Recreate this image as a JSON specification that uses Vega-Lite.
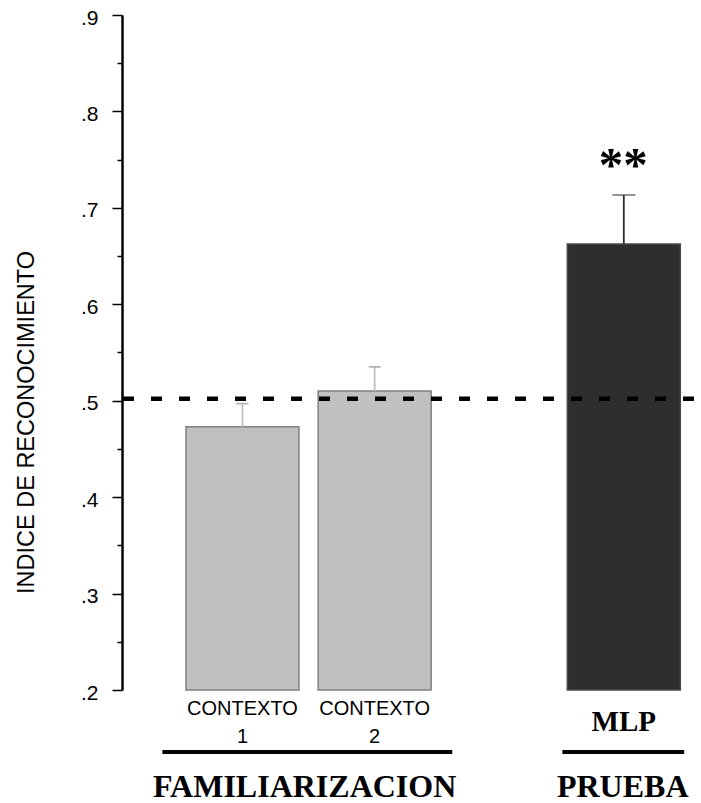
{
  "$schema": "https://vega.github.io/schema/vega-lite/v6.json",
  "autosize": "none",
  "width": 579,
  "height": 675,
  "padding": {"left": 122, "top": 15, "right": 0, "bottom": 113},
  "background": "white",
  "config": {"view": {"stroke": null}},
  "datasets": {
    "bars": [
      {"cond": "CONTEXTO\n1", "pos": 1, "value": 0.473, "upper": 0.497, "group": "light", "font": "sans"},
      {"cond": "CONTEXTO\n2", "pos": 2, "value": 0.510, "upper": 0.535, "group": "light", "font": "sans"},
      {"cond": "MLP", "pos": 3.885, "value": 0.6625, "upper": 0.7133, "group": "dark", "font": "serif"}
    ],
    "groups": [
      {"label": "FAMILIARIZACION", "start": 0.394, "end": 2.587, "center": 1.47},
      {"label": "PRUEBA", "start": 3.42, "end": 4.342, "center": 3.877}
    ],
    "chance": [{"y": 0.502}],
    "notes": [{"text": "**", "pos": 3.88, "y": 0.728}]
  },
  "layer": [
    {
      "data": {"name": "bars"},
      "mark": {"type": "bar", "width": 113, "strokeWidth": 1.5},
      "encoding": {
        "x": {"field": "pos", "type": "quantitative", "scale": {"domain": [0.1264, 4.4312], "nice": false, "zero": false}, "axis": null},
        "y": {"field": "value", "type": "quantitative", "scale": {"domain": [0.2, 0.9], "nice": false, "zero": false},
          "axis": {
            "values": [0.2, 0.225, 0.25, 0.275, 0.3, 0.325, 0.35, 0.375, 0.4, 0.425, 0.45, 0.475, 0.5, 0.525, 0.55, 0.575, 0.6, 0.625, 0.65, 0.675, 0.7, 0.725, 0.75, 0.775, 0.8, 0.825, 0.85, 0.875, 0.9],
            "labelExpr": "round(datum.value*40)%4==0 ? replace(format(datum.value,'.1f'),'0.','.') : ''",
            "tickSize": {"condition": {"test": "round(datum.value*40)%4==0", "value": 10}, "value": 5},
            "tickWidth": 1.5,
            "tickColor": "black",
            "domainColor": "black",
            "domainWidth": 2.5,
            "grid": false,
            "labelFont": "Liberation Sans",
            "labelFontSize": 21,
            "labelColor": "black",
            "labelPadding": 14,
            "labelOffset": 3,
            "labelOverlap": false,
            "labelBound": false,
            "labelFlush": false,
            "title": "INDICE DE RECONOCIMIENTO",
            "titleFont": "Liberation Sans",
            "titleFontSize": 23.5,
            "titleFontWeight": "normal",
            "titleColor": "black",
            "titleAngle": -90,
            "titleBaseline": "middle",
            "titleAlign": "center",
            "titleX": -96,
            "titleY": 407
          }
        },
        "y2": {"datum": 0.2},
        "color": {"field": "group", "type": "nominal", "scale": {"domain": ["light", "dark"], "range": ["#c0c0c0", "#2e2e2e"]}, "legend": null},
        "stroke": {"field": "group", "type": "nominal", "scale": {"domain": ["light", "dark"], "range": ["#808080", "#4a4a4a"]}, "legend": null}
      }
    },
    {
      "data": {"name": "bars"},
      "mark": {"type": "rule", "strokeWidth": 1.8},
      "encoding": {
        "x": {"field": "pos", "type": "quantitative"},
        "y": {"field": "value", "type": "quantitative"},
        "y2": {"field": "upper"},
        "color": {"field": "group", "type": "nominal", "scale": {"domain": ["light", "dark"], "range": ["#959595", "#333333"]}, "legend": null}
      }
    },
    {
      "data": {"name": "bars"},
      "transform": [{"filter": "datum.group == 'light'"}],
      "mark": {"type": "tick", "orient": "horizontal", "size": 12, "thickness": 1.8, "color": "#959595"},
      "encoding": {
        "x": {"field": "pos", "type": "quantitative"},
        "y": {"field": "upper", "type": "quantitative"}
      }
    },
    {
      "data": {"name": "bars"},
      "transform": [{"filter": "datum.group == 'dark'"}],
      "mark": {"type": "tick", "orient": "horizontal", "size": 23, "thickness": 1.5, "color": "#333333"},
      "encoding": {
        "x": {"field": "pos", "type": "quantitative"},
        "y": {"field": "upper", "type": "quantitative"}
      }
    },
    {
      "data": {"name": "chance"},
      "mark": {"type": "rule", "strokeWidth": 4.5, "strokeDash": [11, 17], "strokeDashOffset": 21, "color": "black"},
      "encoding": {
        "y": {"field": "y", "type": "quantitative"}
      }
    },
    {
      "data": {"name": "bars"},
      "transform": [{"filter": "datum.font == 'sans'"}],
      "mark": {"type": "text", "font": "Liberation Sans", "fontSize": 20, "lineBreak": "\n", "lineHeight": 28, "baseline": "alphabetic", "align": "center", "dy": 25, "color": "black"},
      "encoding": {
        "x": {"field": "pos", "type": "quantitative"},
        "y": {"datum": 0.2},
        "text": {"field": "cond"}
      }
    },
    {
      "data": {"name": "bars"},
      "transform": [{"filter": "datum.font == 'serif'"}],
      "mark": {"type": "text", "font": "Liberation Serif", "fontWeight": "bold", "fontSize": 29, "baseline": "alphabetic", "align": "center", "dy": 41, "color": "black"},
      "encoding": {
        "x": {"field": "pos", "type": "quantitative"},
        "y": {"datum": 0.2},
        "text": {"field": "cond"}
      }
    },
    {
      "data": {"name": "groups"},
      "mark": {"type": "rule", "strokeWidth": 4, "color": "black", "yOffset": 62},
      "encoding": {
        "x": {"field": "start", "type": "quantitative"},
        "x2": {"field": "end"},
        "y": {"datum": 0.2}
      }
    },
    {
      "data": {"name": "groups"},
      "mark": {"type": "text", "font": "Liberation Serif", "fontWeight": "bold", "fontSize": 32, "baseline": "alphabetic", "align": "center", "dy": 107, "color": "black"},
      "encoding": {
        "x": {"field": "center", "type": "quantitative"},
        "y": {"datum": 0.2},
        "text": {"field": "label"}
      }
    },
    {
      "data": {"name": "notes"},
      "mark": {"type": "text", "font": "Liberation Serif", "fontWeight": "bold", "fontSize": 49, "baseline": "alphabetic", "align": "center", "color": "black"},
      "encoding": {
        "x": {"field": "pos", "type": "quantitative"},
        "y": {"field": "y", "type": "quantitative"},
        "text": {"field": "text"}
      }
    }
  ]
}
